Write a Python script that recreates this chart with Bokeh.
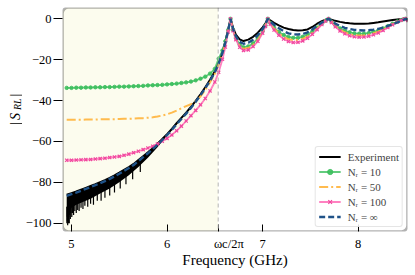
from math import pi
from bokeh.plotting import figure
from bokeh.layouts import row
from bokeh.models import (Range1d, FixedTicker, BoxAnnotation, Span,
                          Legend, LegendItem)
from bokeh.core.properties import value
from bokeh.embed import file_html
from bokeh.resources import INLINE

# ---------------- data ----------------
freq = [4.95, 5.00, 5.05, 5.10, 5.15, 5.20, 5.25, 5.30, 5.35, 5.40, 5.45, 5.50,
        5.55, 5.60, 5.65, 5.70, 5.75, 5.80, 5.85, 5.90, 5.95, 6.00, 6.05, 6.10,
        6.15, 6.20, 6.25, 6.30, 6.35, 6.40, 6.45, 6.50,
        6.54, 6.58, 6.61, 6.64, 6.664,
        6.69, 6.72, 6.76, 6.80, 6.85, 6.90, 6.95, 7.00, 7.03, 7.054,
        7.08, 7.12, 7.17, 7.22, 7.27, 7.32, 7.37, 7.42, 7.47, 7.52, 7.57, 7.62, 7.66, 7.69,
        7.72, 7.76, 7.81, 7.86, 7.91, 7.96, 8.01, 8.06, 8.11, 8.16, 8.21, 8.26, 8.31,
        8.36, 8.41, 8.45, 8.48, 8.495, 8.52]

experiment = [-86.1, -85.3, -84.5, -83.6, -82.7, -81.8, -80.9, -79.9, -78.9, -77.8, -76.6, -75.3,
              -73.9, -72.5, -71.0, -69.1, -67.2, -65.3, -63.3, -61.1, -58.8, -56.4, -53.9, -51.1,
              -48.5, -45.9, -43.1, -40.1, -36.9, -33.5, -29.8, -25.7,
              -21.4, -16.1, -11.1, -5.2, 0.0,
              -4.3, -7.8, -10.1, -10.9, -10.2, -8.8, -6.8, -4.2, -2.2, 0.0,
              -0.8, -2.0, -3.2, -4.3, -5.0, -5.5, -5.7, -5.6, -5.2, -4.0, -2.4, -1.2, -0.4, 0.0,
              -0.4, -1.0, -1.5, -1.9, -2.2, -2.4, -2.4, -2.4, -2.3, -2.0, -1.7, -1.3, -0.9,
              -0.6, -0.3, -0.1, 0.0, 0.0, -0.3]

n_r10 = [-33.8, -33.8, -33.7, -33.7, -33.6, -33.6, -33.5, -33.5, -33.4, -33.4, -33.3, -33.2,
         -33.2, -33.1, -33.0, -32.9, -32.8, -32.6, -32.5, -32.4, -32.3, -32.1, -31.9, -31.7,
         -31.4, -31.1, -30.7, -30.1, -29.3, -28.3, -26.8, -24.5,
         -19.5, -15.5, -11.0, -5.4, 0.0,
         -5.3, -9.4, -12.6, -13.9, -13.5, -12.0, -9.6, -6.1, -3.3, 0.0,
         -2.0, -4.3, -6.4, -7.9, -8.9, -9.3, -9.3, -8.8, -7.8, -6.2, -4.3, -2.3, -0.9, 0.0,
         -1.4, -3.1, -4.7, -5.8, -6.6, -7.1, -7.3, -7.3, -7.0, -6.4, -5.7, -4.7, -3.6,
         -2.4, -1.3, -0.6, -0.2, 0.0, -0.7]

n_r50 = [-49.4, -49.4, -49.4, -49.4, -49.3, -49.3, -49.3, -49.2, -49.2, -49.1, -49.1, -49.0,
         -48.9, -48.9, -48.8, -48.7, -48.6, -48.4, -48.2, -47.8, -47.3, -46.7, -45.9, -44.9,
         -43.8, -42.7, -41.8, -40.3, -38.0, -34.8, -31.0, -26.9,
         -22.6, -17.2, -12.0, -5.8, 0.0,
         -5.5, -9.8, -13.2, -14.7, -14.3, -12.8, -10.3, -6.5, -3.5, 0.0,
         -2.3, -4.9, -7.2, -8.9, -10.0, -10.4, -10.4, -9.8, -8.6, -6.9, -4.8, -2.5, -1.0, 0.0,
         -1.6, -3.5, -5.3, -6.6, -7.5, -8.0, -8.2, -8.1, -7.8, -7.1, -6.3, -5.2, -4.0,
         -2.7, -1.5, -0.7, -0.2, 0.0, -0.8]

n_r100 = [-69.2, -69.2, -69.1, -69.0, -68.9, -68.8, -68.6, -68.4, -68.2, -67.9, -67.6, -67.3,
          -66.8, -66.2, -65.5, -64.8, -64.0, -63.2, -62.3, -61.2, -59.9, -58.5, -56.8, -54.8,
          -52.5, -50.0, -47.4, -44.8, -42.1, -39.0, -35.3, -30.9,
          -26.2, -19.8, -13.8, -6.4, 0.0,
          -5.8, -10.2, -13.9, -15.5, -15.2, -13.6, -11.0, -7.0, -3.8, 0.0,
          -2.6, -5.5, -8.0, -9.9, -11.1, -11.6, -11.5, -10.8, -9.5, -7.6, -5.3, -2.8, -1.1, 0.0,
          -1.8, -3.9, -5.9, -7.3, -8.3, -8.8, -9.0, -8.9, -8.5, -7.8, -6.9, -5.7, -4.3,
          -2.9, -1.6, -0.7, -0.2, 0.0, -0.8]

n_rinf = [-86.6, -85.8, -85.0, -84.1, -83.2, -82.3, -81.4, -80.4, -79.4, -78.3, -77.1, -75.8,
          -74.4, -73.0, -71.5, -69.6, -67.7, -65.8, -63.8, -61.6, -59.3, -56.9, -54.4, -51.6,
          -49.0, -46.4, -43.6, -40.6, -37.4, -34.0, -30.3, -26.2,
          -21.9, -16.6, -11.6, -5.6, 0.0,
          -4.8, -8.6, -11.3, -12.2, -11.7, -10.2, -8.0, -5.0, -2.6, 0.0,
          -1.3, -2.9, -4.6, -6.0, -7.1, -7.6, -7.7, -7.4, -6.6, -5.2, -3.4, -1.8, -0.7, 0.0,
          -1.0, -2.3, -3.5, -4.4, -5.0, -5.4, -5.6, -5.7, -5.6, -5.3, -4.9, -4.3, -3.5,
          -2.7, -1.8, -1.0, -0.4, 0.0, -0.6]

# measurement noise band of the experiment (below the cutoff)
noise_f = [4.95, 4.97, 5.00, 5.05, 5.10, 5.20, 5.30, 5.40, 5.50, 5.60, 5.70, 5.80, 5.90, 6.00, 6.10]
noise_hi = [-86.1, -85.8, -85.3, -84.5, -83.6, -81.8, -79.9, -77.8, -75.3, -72.5, -69.1, -65.3, -61.1, -56.4, -51.1]
noise_lo = [-97.0, -95.0, -92.5, -91.0, -90.0, -88.0, -85.5, -83.0, -80.0, -76.5, -72.5, -68.0, -62.8, -57.2, -51.5]
spike_f = [4.952, 4.956, 4.960, 4.964, 4.968, 4.972, 4.977, 4.982, 4.988, 4.995, 5.003, 5.012,
           5.022, 5.035, 5.05, 5.065, 5.08, 5.10, 5.12, 5.14, 5.17, 5.20, 5.23, 5.27,
           5.31, 5.35, 5.40, 5.45, 5.51, 5.57, 5.64, 5.72]
spike_hi = [-92, -92, -92, -92, -91, -91, -91, -91, -90, -90, -90, -89,
            -89, -89, -88, -88, -88, -87, -87, -86, -86, -85, -85, -84,
            -83, -82, -81, -80, -78, -76, -74, -71]
spike_lo = [-100, -99, -101, -98, -100, -97, -100, -96, -98, -95, -97, -95,
            -96, -94, -95, -93.5, -94, -92.5, -93, -91.5, -92, -90.5, -91, -89,
            -89, -87.5, -86.5, -85, -83, -81, -78.5, -75]

omega_c = 6.535
x_ticks = [5, 6, omega_c, 7, 8]
# en/thin spaces shift the visible omega_c label to the right of its tick, as in the reference
x_tick_labels = ["5", "6", "\u2002\u2002\u2002\u2009\u03c9c/2\u03c0", "7", "8"]
y_ticks = [0, -20, -40, -60, -80, -100]
y_tick_labels = ["0", "\u221220", "\u221240", "\u221260", "\u221280", "\u2212100"]
legend_labels = ["Experiment", "N\u1d63 = 10", "N\u1d63 = 50", "N\u1d63 = 100", "N\u1d63 = \u221e"]
x_label = "Frequency (GHz)"
y_label_parts = ["|", "S", "RL", "|"]

for arr in (experiment, n_r10, n_r50, n_r100, n_rinf):
    assert len(arr) == len(freq), len(arr)

# ---------------- styling ----------------
FONT = "Liberation Serif"
GREEN = "#3dbf5e"
ORANGE = "#ffb43c"
PINK = "#ff62b2"
BLUE = "#1f5288"

X0, X1 = 4.906, 8.516
Y0, Y1 = -104.06, 5.53
H = 274
STRIP_W = 22

# ---------- narrow strip on the left holding the y axis title |S_RL| ----------
ys = figure(width=STRIP_W, height=H, x_range=Range1d(0, STRIP_W), y_range=Range1d(0, H),
            output_backend="svg", toolbar_location=None, min_border=0,
            x_axis_location=None, y_axis_location=None)
ys.grid.visible = False
ys.outline_line_color = None
ys.background_fill_color = "white"
ys.border_fill_color = "white"
# (text, baseline x, start y from top, size, style)
for txt, bx, sy, size, style in [(y_label_parts[0], 14.5, 143.5, "14px", "normal"),
                                  (y_label_parts[1], 15.0, 137.5, "14px", "italic"),
                                  (y_label_parts[2], 17.0, 125.5, "10px", "italic"),
                                  (y_label_parts[3], 14.5, 109.0, "14px", "normal")]:
    ys.text(x=[bx], y=[H - sy], text=[txt], angle=pi / 2,
            text_font=value(FONT), text_font_size=value(size),
            text_font_style=value(style), text_align=value("left"),
            text_baseline=value("alphabetic"), text_color="black")

# ---------------- main figure ----------------
p = figure(width=414 - STRIP_W, height=H, x_range=Range1d(X0, X1), y_range=Range1d(Y0, Y1),
           output_backend="svg", toolbar_location=None,
           min_border_left=62 - STRIP_W, min_border_right=7, min_border_top=7,
           min_border_bottom=43)
p.grid.visible = False
p.outline_line_color = None
p.background_fill_color = "white"
p.border_fill_color = "white"

has_radius = "border_radius" in BoxAnnotation.properties()

shade_kw = dict(left=X0, right=omega_c, bottom=Y0, top=Y1, fill_color="#fcfcee",
                fill_alpha=1.0, line_color=None, level="underlay")
if has_radius:
    shade_kw["border_radius"] = (6, 0, 0, 6)
p.add_layout(BoxAnnotation(**shade_kw))
p.add_layout(Span(location=omega_c, dimension="height", line_color="#b4b4b4",
                  line_dash="4 3", line_width=1))

xa = p.xaxis[0]
xa.ticker = FixedTicker(ticks=x_ticks)
xa.major_label_overrides = dict(zip(x_ticks, x_tick_labels))
xa.axis_line_color = None
xa.major_tick_in = 7
xa.major_tick_out = 0
xa.minor_tick_line_color = None
xa.major_tick_line_color = "black"
xa.major_label_text_font = FONT
xa.major_label_text_font_size = "12.5px"
xa.major_label_text_color = "black"
xa.major_label_standoff = 5
xa.axis_label = x_label
xa.axis_label_text_font = FONT
xa.axis_label_text_font_size = "15px"
xa.axis_label_text_font_style = "normal"
xa.axis_label_text_color = "black"
xa.axis_label_standoff = -2

ya = p.yaxis[0]
ya.ticker = FixedTicker(ticks=y_ticks)
ya.major_label_overrides = dict(zip(y_ticks, y_tick_labels))
ya.axis_line_color = None
ya.major_tick_in = 0
ya.major_tick_out = 9
ya.minor_tick_line_color = None
ya.major_tick_line_color = "black"
ya.major_label_text_font = FONT
ya.major_label_text_font_size = "12.5px"
ya.major_label_text_color = "black"
ya.major_label_standoff = 2

# ---------------- data glyphs ----------------
p.varea(x=noise_f, y1=noise_lo, y2=noise_hi, fill_color="black")
p.segment(x0=spike_f, y0=spike_hi, x1=spike_f, y1=spike_lo, line_color="black", line_width=1.2)
r_exp = p.line(freq, experiment, line_color="black", line_width=2)

r_g = p.line(freq, n_r10, line_color=GREEN, line_width=1.8, line_alpha=0.8)
r_gm = p.scatter(freq, n_r10, marker="circle", size=3.4, fill_color=GREEN, line_color=GREEN,
                 fill_alpha=0.9, line_alpha=0.9)
r_o = p.line(freq, n_r50, line_color=ORANGE, line_width=2, line_dash="9 3 2 3", line_alpha=0.9)
r_p = p.line(freq, n_r100, line_color=PINK, line_width=1.8, line_alpha=0.8)
r_pm = p.scatter(freq, n_r100, marker="x", size=4.5, line_color="#f0479e", line_width=1.2)
r_b = p.line(freq, n_rinf, line_color=BLUE, line_width=2.4, line_dash="6 3")

# rounded frame (half of the line lies inside the frame)
frame_kw = dict(left=X0, right=X1, bottom=Y0, top=Y1, fill_alpha=0, fill_color=None,
                line_color="black", line_width=2.6)
if has_radius:
    frame_kw["border_radius"] = 6
p.add_layout(BoxAnnotation(**frame_kw))

# legend
leg = Legend(items=[LegendItem(label=legend_labels[0], renderers=[r_exp]),
                    LegendItem(label=legend_labels[1], renderers=[r_g, r_gm]),
                    LegendItem(label=legend_labels[2], renderers=[r_o]),
                    LegendItem(label=legend_labels[3], renderers=[r_p, r_pm]),
                    LegendItem(label=legend_labels[4], renderers=[r_b])],
             location="bottom_right", margin=4, padding=3, spacing=2,
             label_height=13, glyph_height=13, glyph_width=22, label_standoff=7,
             label_text_font=FONT, label_text_font_size="11px",
             border_line_color="#cccccc", border_line_width=1,
             background_fill_color="white", background_fill_alpha=0.85)
if "border_radius" in Legend.properties():
    leg.border_radius = 3
p.add_layout(leg)

layout = row(ys, p, spacing=0)
open("out.html", "w").write(file_html(layout, INLINE))
